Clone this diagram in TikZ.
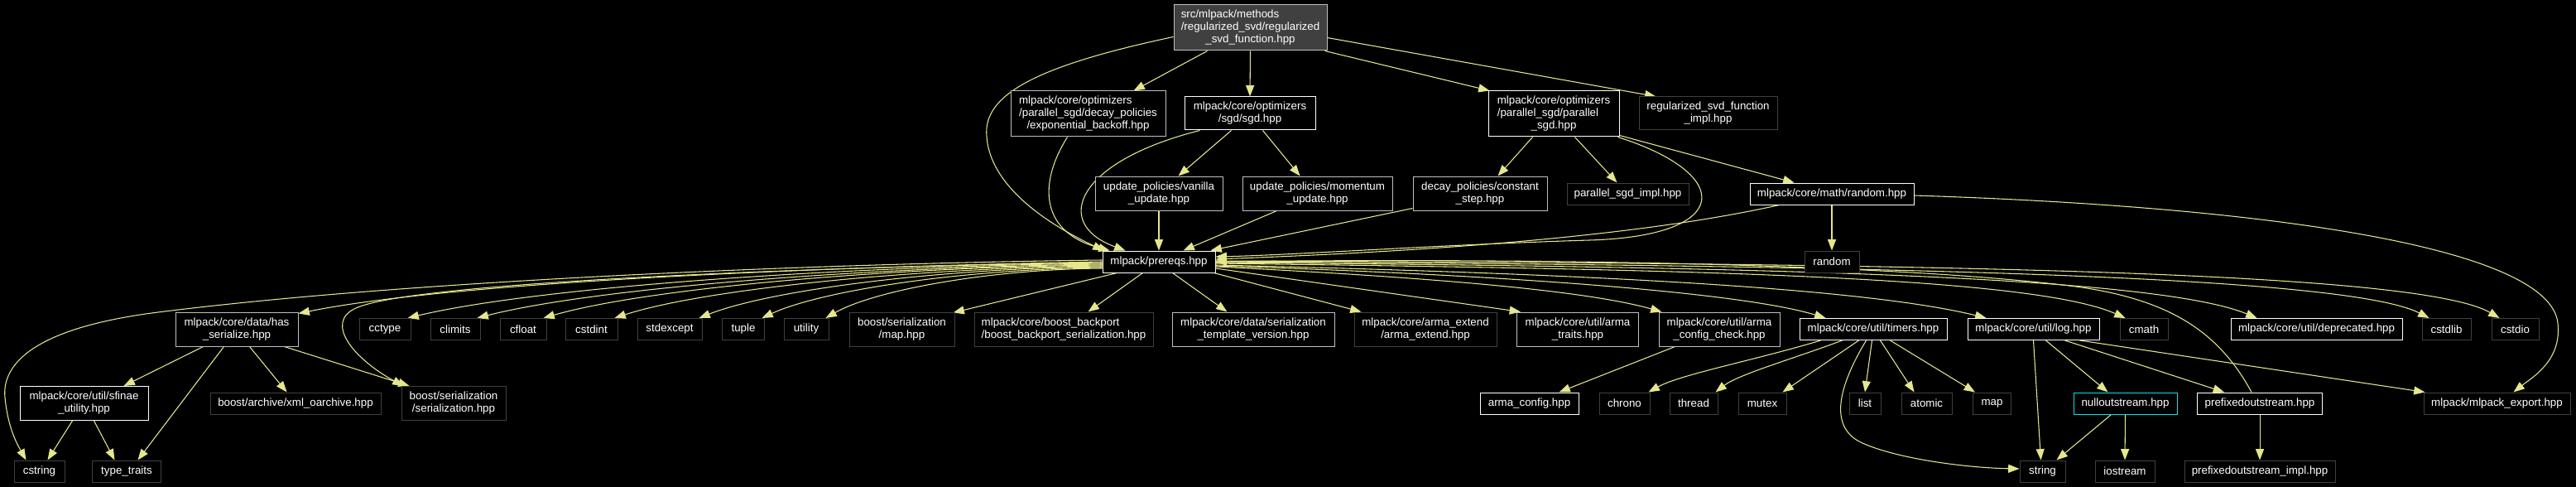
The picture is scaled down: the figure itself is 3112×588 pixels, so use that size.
\documentclass[tikz,border=0pt]{standalone}
\usepackage{fontspec}
\setmainfont{Liberation Sans}
\usetikzlibrary{arrows.meta,calc}
\definecolor{edgecol}{RGB}{230,230,140}
\definecolor{docborder}{RGB}{255,255,255}
\definecolor{lgborder}{RGB}{191,191,191}
\definecolor{extborder}{RGB}{64,64,64}
\definecolor{rootfill}{RGB}{64,64,64}
\definecolor{hiborder}{RGB}{0,230,230}
\newcommand\labthree[3]{\begin{tabular}{@{}l@{}}#1\\#2\\\multicolumn{1}{@{}c@{}}{#3}\end{tabular}}
\newcommand\labtwo[2]{\begin{tabular}{@{}l@{}}#1\\\multicolumn{1}{@{}c@{}}{#2}\end{tabular}}
\newcommand\mknode[7]{\node[#6,minimum width=#4*0.75pt,minimum height=#5*0.75pt] (#1) at (#2,#3) {#7};}
\pgfdeclarelayer{back}
\pgfsetlayers{back,main}
\begin{document}
\begin{tikzpicture}[x=0.75pt,y=-0.75pt,
  nbox/.style={draw, fill=black, text=white, line width=0.75pt, inner sep=0pt, font=\fontsize{10}{11.25}\selectfont},
  ndoc/.style={nbox, draw=docborder},
  nlg/.style={nbox, draw=lgborder},
  nextern/.style={nbox, draw=extborder},
  nhl/.style={nbox, draw=hiborder},
  nroot/.style={nbox, draw=lgborder, fill=rootfill},
  dep/.style={draw=edgecol, line width=0.8pt, -{Triangle[length=10pt,width=7.5pt]}}]
\useasboundingbox (0,0) rectangle (3112,588);
% ---- nodes ----
\mknode{root}{1510.5}{33.5}{185}{55}{nroot}{\labthree{src/mlpack/methods}{/regularized\_svd/regularized}{\_svd\_function.hpp}}
\mknode{expo}{1314.5}{137.5}{187}{55}{nlg}{\labthree{mlpack/core/optimizers}{/parallel\_sgd/decay\_policies}{/exponential\_backoff.hpp}}
\mknode{sgd}{1510}{137}{158}{40}{ndoc}{\labtwo{mlpack/core/optimizers}{/sgd/sgd.hpp}}
\mknode{psgd}{1877}{137.5}{158}{55}{ndoc}{\labthree{mlpack/core/optimizers}{/parallel\_sgd/parallel}{\_sgd.hpp}}
\mknode{rsfi}{2063.5}{137}{167}{40}{nextern}{\labtwo{regularized\_svd\_function}{\_impl.hpp}}
\mknode{vanilla}{1400}{233.5}{154}{41}{nlg}{\labtwo{update\_policies/vanilla}{\_update.hpp}}
\mknode{momentum}{1591.5}{233.5}{181}{41}{nlg}{\labtwo{update\_policies/momentum}{\_update.hpp}}
\mknode{decay}{1788}{233.5}{162}{41}{nlg}{\labtwo{decay\_policies/constant}{\_step.hpp}}
\mknode{psgdimpl}{1966.5}{234}{147}{26}{nextern}{parallel\_sgd\_impl.hpp}
\mknode{randomhpp}{2213}{234}{198}{26}{ndoc}{mlpack/core/math/random.hpp}
\mknode{prereqs}{1400}{316}{136}{26}{ndoc}{mlpack/prereqs.hpp}
\mknode{random}{2213}{316}{66}{26}{nextern}{random}
% row 4
\mknode{hasser}{286}{397.5}{148}{41}{nlg}{\labtwo{mlpack/core/data/has}{\_serialize.hpp}}
\mknode{cctype}{465}{397.5}{62}{26}{nextern}{cctype}
\mknode{climits}{550}{397.5}{60}{26}{nextern}{climits}
\mknode{cfloat}{632}{397.5}{56}{26}{nextern}{cfloat}
\mknode{cstdint}{714.5}{397.5}{63}{26}{nextern}{cstdint}
\mknode{stdexcept}{809}{397.5}{78}{26}{nextern}{stdexcept}
\mknode{tuple}{898}{397.5}{51}{26}{nextern}{tuple}
\mknode{utility}{974}{397.5}{54}{26}{nextern}{utility}
\mknode{maphpp}{1089.5}{397.5}{127}{41}{nextern}{\labtwo{boost/serialization}{/map.hpp}}
\mknode{backport}{1285}{397.5}{216}{41}{nextern}{\labtwo{mlpack/core/boost\_backport}{/boost\_backport\_serialization.hpp}}
\mknode{stv}{1514}{397.5}{196}{41}{nlg}{\labtwo{mlpack/core/data/serialization}{\_template\_version.hpp}}
\mknode{armaext}{1722}{397.5}{172}{41}{nextern}{\labtwo{mlpack/core/arma\_extend}{/arma\_extend.hpp}}
\mknode{armatraits}{1906}{397.5}{147}{41}{nlg}{\labtwo{mlpack/core/util/arma}{\_traits.hpp}}
\mknode{acc}{2077}{397.5}{146}{41}{nlg}{\labtwo{mlpack/core/util/arma}{\_config\_check.hpp}}
\mknode{timers}{2263}{397.5}{178}{26}{ndoc}{mlpack/core/util/timers.hpp}
\mknode{log}{2456.5}{397.5}{159}{26}{ndoc}{mlpack/core/util/log.hpp}
\mknode{cmath}{2590}{397.5}{58}{26}{nextern}{cmath}
\mknode{deprecated}{2798.5}{397.5}{207}{26}{ndoc}{mlpack/core/util/deprecated.hpp}
\mknode{cstdlib}{2955.5}{397.5}{59}{26}{nextern}{cstdlib}
\mknode{cstdio}{3038.5}{397.5}{57}{26}{nextern}{cstdio}
% row 5
\mknode{sfinae}{101.5}{487}{155}{41}{ndoc}{\labtwo{mlpack/core/util/sfinae}{\_utility.hpp}}
\mknode{xml}{357}{487}{206}{26}{nextern}{boost/archive/xml\_oarchive.hpp}
\mknode{bser}{548}{487}{126}{41}{nextern}{\labtwo{boost/serialization}{/serialization.hpp}}
\mknode{armaconfig}{1847.5}{487}{119}{26}{ndoc}{arma\_config.hpp}
\mknode{chrono}{1962.5}{487}{61}{26}{nextern}{chrono}
\mknode{thread}{2046}{487}{58}{26}{nextern}{thread}
\mknode{mutex}{2129}{487}{58}{26}{nextern}{mutex}
\mknode{list}{2253}{487}{38}{26}{nextern}{list}
\mknode{atomic}{2327.5}{487}{61}{26}{nextern}{atomic}
\mknode{map}{2406.5}{487}{46}{26}{nextern}{map}
\mknode{nullout}{2567.5}{487}{125}{26}{nhl}{nulloutstream.hpp}
\mknode{prefixout}{2730}{487}{151}{26}{ndoc}{prefixedoutstream.hpp}
\mknode{export}{3016.5}{487}{177}{26}{nextern}{mlpack/mlpack\_export.hpp}
% row 6
\mknode{cstring}{47.5}{569}{61}{26}{nextern}{cstring}
\mknode{typetraits}{153}{569}{83}{26}{nextern}{type\_traits}
\mknode{string}{2467.5}{569}{55}{26}{nextern}{string}
\mknode{iostream}{2567}{569}{72}{26}{nextern}{iostream}
\mknode{pimpl}{2730}{569}{182}{26}{nextern}{prefixedoutstream\_impl.hpp}
% ---- edges ----
\begin{pgfonlayer}{back}
\fill[black] (0,0) rectangle (3112,588);
% root
\draw[dep] ($(root.south west)+(41,0)$) -- ($(expo.north west)+(149,0)$);
\draw[dep] (root.south) -- (sgd.north);
\draw[dep] ($(root.south east)+(-3,0)$) -- ($(psgd.north west)+(2,0)$);
\draw[dep] ($(root.east)+(0,12)$) -- ($(rsfi.north west)+(21,0)$);
\draw[dep] ($(root.west)+(0,11)$) .. controls (1250,80) and (1187,115) .. (1192,165)
   .. controls (1197,235) and (1290,282) .. ($(prereqs.north west)+(2,0)$);
\draw[dep] ($(expo.south west)+(69,0)$) .. controls (1255,220) and (1255,280) .. ($(prereqs.north west)+(9,0)$);
\draw[dep] ($(sgd.south west)+(19,0)$) .. controls (1300,195) and (1270,270) .. ($(prereqs.north west)+(28,0)$);
\draw[dep] ($(sgd.south west)+(57,0)$) -- ($(vanilla.north west)+(101,0)$);
\draw[dep] ($(sgd.south west)+(95,0)$) -- ($(momentum.north west)+(70,0)$);
\draw[dep] (vanilla.south) -- (prereqs.north);
\draw[dep] ($(momentum.south west)+(42,0)$) -- ($(prereqs.north west)+(98,0)$);
\draw[dep] ($(decay.south west)+(0,-3)$) -- ($(prereqs.north east)+(-6,0)$);
\draw[dep] ($(psgd.south west)+(54,0)$) -- ($(decay.north west)+(103,0)$);
\draw[dep] ($(psgd.south west)+(105,0)$) -- ($(psgdimpl.north west)+(61,0)$);
\draw[dep] ($(psgd.south east)+(0,-2)$) -- ($(randomhpp.north west)+(54,0)$);
\draw[dep] ($(psgd.south east)+(-2,0)$) .. controls (2095,210) and (2095,285) .. (1920,290)
   .. controls (1750,295) and (1560,308) .. ($(prereqs.east)+(0,-6)$);
\draw[dep] (randomhpp.south) -- (random.north);
\draw[dep] ($(randomhpp.south west)+(36,0)$) .. controls (1950,292) and (1650,306) .. ($(prereqs.east)+(0,-3)$);
\draw[dep] ($(randomhpp.east)+(0,2)$) .. controls (2750,250) and (3080,300) .. (3090,390)
   .. controls (3095,435) and (3060,455) .. ($(export.north west)+(109,0)$);
% prereqs to the left
\draw[dep] ($(prereqs.west)+(0,-2)$) .. controls (1000,318) and (500,338) .. (191,377)
   .. controls (40,396) and (2,440) .. (6,480)
   .. controls (9.6,516) and (20,535) .. ($(cstring.north west)+(15,0)$);
\draw[dep] (prereqs.west) .. controls (1000,322) and (550,340) .. ($(hasser.north east)+(0,2)$);
\draw[dep] ($(prereqs.west)+(0,1)$) .. controls (1000,322) and (500,340) .. (430,372)
   .. controls (390,390) and (430,435) .. ($(bser.north west)+(3,0)$);
\draw[dep] ($(prereqs.west)+(0,2)$) .. controls (996,322) and (643,348) .. ($(cctype.north east)+(-4,0)$);
\draw[dep] ($(prereqs.west)+(0,3)$) .. controls (1030,323) and (713,349) .. ($(climits.north east)+(-4,0)$);
\draw[dep] ($(prereqs.west)+(0,4)$) .. controls (1062,323) and (778,349) .. ($(cfloat.north east)+(-4,0)$);
\draw[dep] ($(prereqs.west)+(0,5)$) .. controls (1095,324) and (847,350) .. ($(cstdint.north east)+(-4,0)$);
\draw[dep] ($(prereqs.west)+(0,6)$) .. controls (1136,324) and (931,350) .. ($(stdexcept.north east)+(-4,0)$);
\draw[dep] ($(prereqs.west)+(0,7)$) .. controls (1167,325) and (994,350) .. ($(tuple.north east)+(-3.5,0)$);
\draw[dep] ($(prereqs.west)+(0,8)$) .. controls (1198,325) and (1057,350) .. ($(utility.north east)+(-4,0)$);
\draw[dep] ($(prereqs.south west)+(18,0)$) -- ($(maphpp.north east)+(-2,1)$);
% prereqs downward / right
\draw[dep] ($(prereqs.south west)+(49,0)$) -- ($(backport.north west)+(138,0)$);
\draw[dep] ($(prereqs.south west)+(85,0)$) -- ($(stv.north west)+(67,0)$);
\draw[dep] ($(prereqs.south east)+(-2,0)$) -- ($(armaext.north west)+(9,0)$);
\draw[dep] ($(prereqs.east)+(0,8)$) -- ($(armatraits.north west)+(5,0)$);
\draw[dep] ($(prereqs.east)+(0,6)$) .. controls (1750,336) and (1920,352) .. ($(acc.north west)+(4,0)$);
\draw[dep] ($(prereqs.east)+(0,5)$) .. controls (1800,331) and (2100,352) .. ($(timers.north west)+(32,0)$);
\draw[dep] ($(prereqs.east)+(0,4)$) .. controls (1900,330) and (2250,347) .. ($(log.north west)+(23,0)$);
\draw[dep] ($(prereqs.east)+(0,2)$) .. controls (2000,325) and (2450,332) .. ($(cmath.north west)+(7,0)$);
\draw[dep] ($(prereqs.east)+(0,1)$) .. controls (2100,322) and (2600,332) .. ($(deprecated.north west)+(32,0)$);
\draw[dep] (prereqs.east) .. controls (2200,320) and (2830,330) .. ($(cstdlib.north west)+(9,0)$);
\draw[dep] ($(prereqs.east)+(0,-1)$) .. controls (2300,318) and (2920,326) .. ($(cstdio.north west)+(10,0)$);
% has_serialize and sfinae
\draw[dep] ($(hasser.south west)+(34,0)$) -- ($(sfinae.north west)+(126,0)$);
\draw[dep] ($(hasser.south west)+(59,0)$) -- ($(typetraits.north west)+(55.5,0)$);
\draw[dep] ($(hasser.south west)+(90,0)$) -- ($(xml.north west)+(93,0)$);
\draw[dep] ($(hasser.south west)+(132,0)$) -- ($(bser.north west)+(10,0)$);
\draw[dep] ($(sfinae.south west)+(64,0)$) -- ($(cstring.north west)+(41,0)$);
\draw[dep] ($(sfinae.south west)+(90,0)$) -- ($(typetraits.north west)+(27.5,0)$);
% arma_config_check
\draw[dep] ($(acc.south west)+(20,0)$) -- ($(armaconfig.north east)+(-24,0)$);
% timers
\draw[dep] ($(timers.south west)+(26,0)$) .. controls (2120,435) and (2030,452) .. ($(chrono.north east)+(-2,0)$);
\draw[dep] ($(timers.south west)+(52,0)$) .. controls (2170,432) and (2100,452) .. ($(thread.north east)+(-3,0)$);
\draw[dep] ($(timers.south west)+(72,0)$) -- ($(mutex.north east)+(-5,0)$);
\draw[dep] ($(timers.south west)+(81,0)$) .. controls (2225,460) and (2205,515) .. (2250,535)
   .. controls (2295,555) and (2380,565) .. ($(string.west)+(0,-3)$);
\draw[dep] ($(timers.south west)+(88,0)$) -- (list.north);
\draw[dep] ($(timers.south west)+(98,0)$) -- ($(atomic.north west)+(16,0)$);
\draw[dep] ($(timers.south west)+(110,0)$) -- ($(map.north west)+(3,0)$);
% log
\draw[dep] ($(log.south west)+(80,0)$) -- ($(string.north)+(-2,0)$);
\draw[dep] ($(log.south west)+(95,0)$) -- ($(nullout.north west)+(42,0)$);
\draw[dep] ($(log.south west)+(118,0)$) -- ($(prefixout.north west)+(33,0)$);
\draw[dep] ($(log.south west)+(136,0)$) -- ($(export.north west)+(2,0)$);
% streams
\draw[dep] ($(nullout.south west)+(46,0)$) -- ($(string.north east)+(-11,0)$);
\draw[dep] (nullout.south) -- (iostream.north);
\draw[dep] (prefixout.south) -- (pimpl.north);
\draw[dep] ($(prefixout.north west)+(66,0)$) .. controls (2680,400) and (2620,360) .. (2500,345)
   .. controls (2260,316) and (1800,312) .. (prereqs.east);
\end{pgfonlayer}
\end{tikzpicture}
\end{document}
